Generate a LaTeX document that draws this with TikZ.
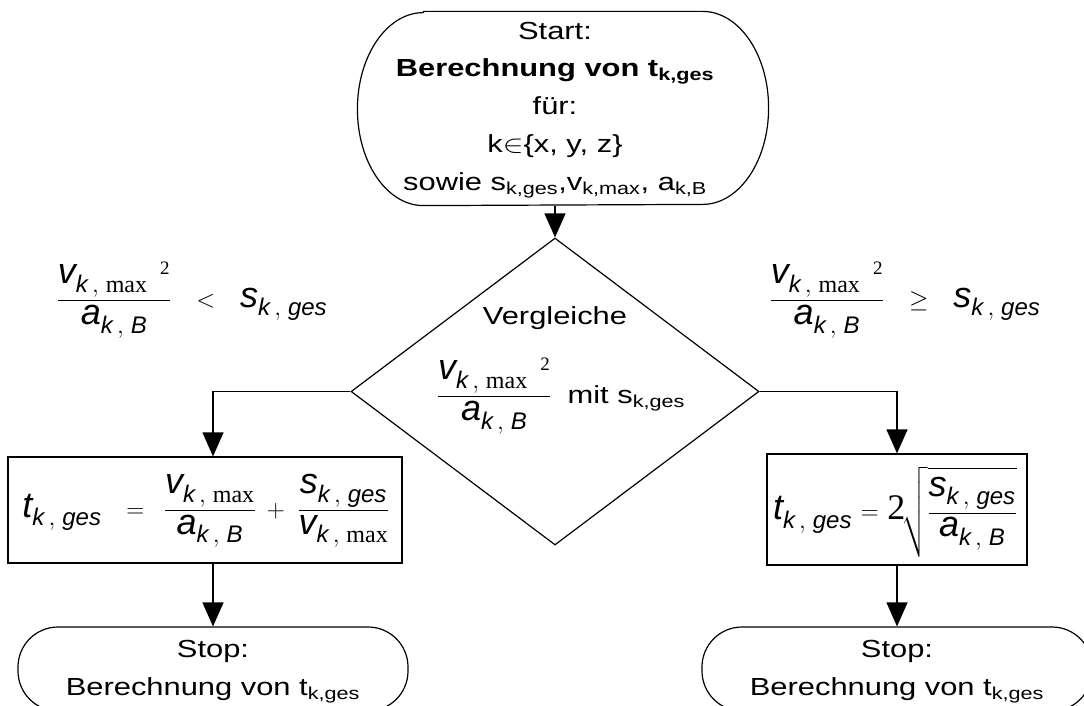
\documentclass[tikz,border=0pt]{standalone}
\usepackage{fontspec}
\usepackage{amsmath}
\usepackage{graphicx}
\setmainfont{Liberation Sans}
\newfontfamily\tnr{Liberation Serif}
\usetikzlibrary{shapes.geometric,arrows.meta}
\DeclareMathSizes{36}{36}{24}{17}

% horizontally widened lettering for the plain text lines
\newcommand{\hx}[1]{\scalebox{1.25}[1]{#1}}
% italic sans letters inside formulas
\newcommand{\mv}[1]{\textit{#1}}
\newcommand{\mx}{\text{\tnr max}}
\newcommand{\sq}{\text{\tnr\fontsize{19}{20}\selectfont 2}}
\newcommand{\vmax}{\mv{v}_{\mv{k}\,,\;\mx}}
\newcommand{\vmaxsq}{\mv{v}_{\mv{k}\,,\;\mx}{}^{\hspace{0.35em}\sq}}
\newcommand{\akb}{\mv{a}_{\mv{k}\,,\;\mv{B}}}
\newcommand{\skg}{\mv{s}_{\mv{k}\,,\;\mv{ges}}}
\newcommand{\tkg}{\mv{t}_{\mv{k}\,,\;\mv{ges}}}
\newcommand{\two}{\text{\tnr 2}}
\newcommand{\fml}{\fontsize{36}{42}\selectfont}

\tikzset{
  term/.style={draw, rectangle, inner sep=0pt},
  procbox/.style={draw, rectangle, inner sep=0pt},
  decide/.style={draw, diamond, inner sep=0pt},
  txt/.style={align=center, inner sep=0pt, font=\fontsize{24.7}{37.9}\selectfont},
  flow/.style={-{Triangle[width=21pt,length=24pt]}},
}

\begin{document}
\begin{tikzpicture}[x=1pt, y=-1pt, line width=1.2pt]
\useasboundingbox (0,0) rectangle (1084,706);
\clip (0,0) rectangle (1084,706);

% start terminal: flat top and bottom, elliptical ends
\node[rectangle, inner sep=0pt, minimum width=410pt, minimum height=193pt] (start) at (563,108.5) {};
\draw ([xshift=66pt]start.north west) -- ([xshift=-66pt]start.north east)
  arc[start angle=-90, end angle=90, x radius=66, y radius=96.5]
  -- ([xshift=66pt]start.south west)
  arc[start angle=90, end angle=270, x radius=66, y radius=96.5] -- cycle;
\node[txt] (starttxt) at (555,110) {%
  \hx{Start:}\\
  \hx{\textbf{Berechnung von t\textsubscript{k,ges}}}\\
  \hx{für:}\\
  \hx{k$\in$\{x, y, z\}}\\
  \hx{sowie s\textsubscript{k,ges},v\textsubscript{k,max}, a\textsubscript{k,B}}};

% decision
\node[decide, minimum width=408pt, minimum height=307pt] (cmp) at (555,391.5) {};
\node[txt, anchor=base] (vgl) at (555,324) {\hx{Vergleiche}};
\node[txt] (cmpf) at (561,396) {{\fml$\dfrac{\vmaxsq}{\akb}$}\hspace{0.65em}\hx{mit s\textsubscript{k,ges}}};

% branch conditions
\node[txt] (condl) at (192,300) {\fml$\dfrac{\vmaxsq}{\akb}\hspace{0.5em}<\hspace{0.5em}\skg$};
\node[txt] (condr) at (905,300) {\fml$\dfrac{\vmaxsq}{\akb}\hspace{0.5em}\geq\hspace{0.5em}\skg$};

% processing boxes
\node[procbox, minimum width=394pt, minimum height=106pt] (lbox) at (205,510) {};
\node[txt] (lboxf) at (206,511) {\fml$\tkg\hspace{0.5em}=\hspace{0.35em}\dfrac{\vmax}{\akb}\hspace{0.15em}+\hspace{0.2em}\dfrac{\skg}{\vmax}$};
\node[procbox, minimum width=260pt, minimum height=111pt] (rbox) at (897,509.5) {};
\node[txt] (rboxf) at (895,512) {\fml$\tkg\hspace{0.05em}=\hspace{0.05em}\two\!\sqrt{\dfrac{\skg}{\akb}}$};

% stop terminals
\node[term, rounded corners=40pt, minimum width=390pt, minimum height=84pt] (lstop) at (213,669) {};
\node[txt] (lstoptxt) at (213,672) {\hx{Stop:}\\ \hx{Berechnung von t\textsubscript{k,ges}}};
\node[term, rounded corners=40pt, minimum width=390pt, minimum height=84pt] (rstop) at (897,669) {};
\node[txt] (rstoptxt) at (897,672) {\hx{Stop:}\\ \hx{Berechnung von t\textsubscript{k,ges}}};

% connectors
\draw[flow] (start.south -| cmp.north) -- (cmp.north);
\draw[flow] (cmp.west) -| (lstop.north |- lbox.north);
\draw[flow] (lstop.north |- lbox.south) -- (lstop.north);
\draw[flow] (cmp.east) -| (rbox.north);
\draw[flow] (rbox.south) -- (rstop.north);
\end{tikzpicture}
\end{document}
